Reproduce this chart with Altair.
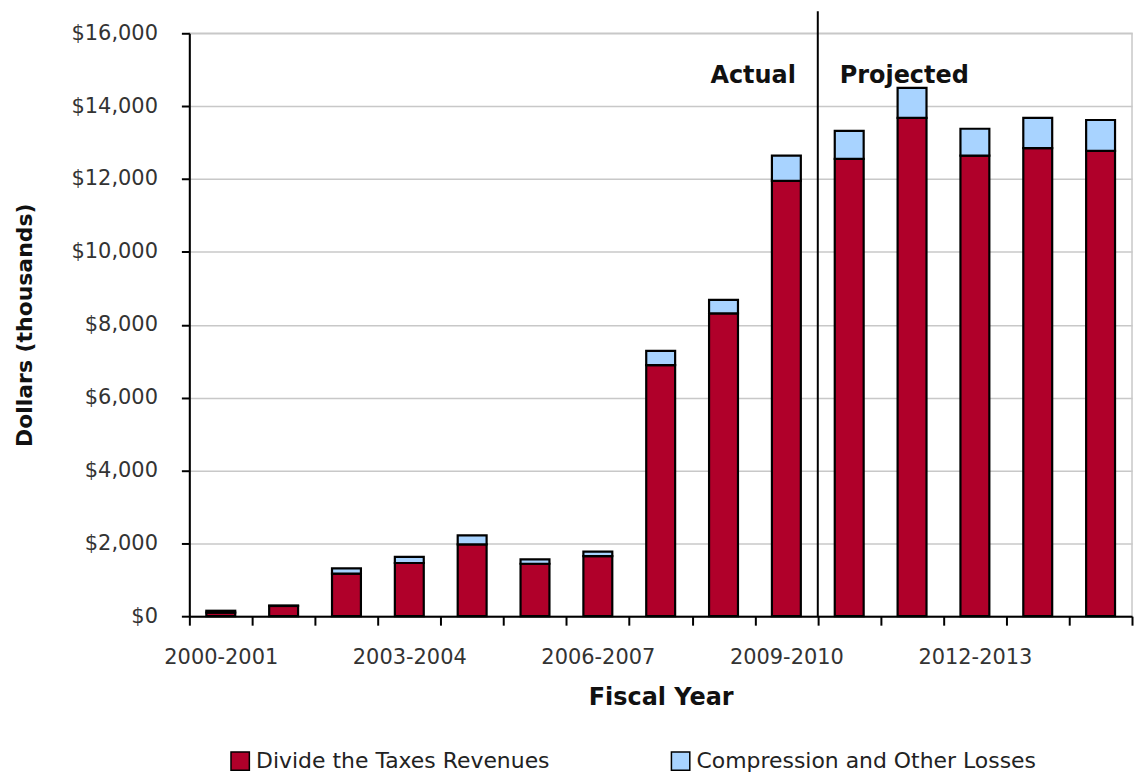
import altair as alt
import pandas as pd

# ---- data ----
years = ["2000-2001", "2001-2002", "2002-2003", "2003-2004", "2004-2005",
         "2005-2006", "2006-2007", "2007-2008", "2008-2009", "2009-2010",
         "2010-2011", "2011-2012", "2012-2013", "2013-2014", "2014-2015"]
divide = [100, 280, 1170, 1460, 1970, 1440, 1650, 6890, 8310, 11950,
          12550, 13680, 12640, 12850, 12770]
compression = [50, 15, 140, 170, 250, 120, 120, 390, 370, 690,
               770, 820, 740, 830, 850]
series_names = ["Divide the Taxes Revenues", "Compression and Other Losses"]
series_colors = ["#B0002A", "#A8D3FF"]
shown_labels = ["2000-2001", "2003-2004", "2006-2007", "2009-2010", "2012-2013"]
y_ticks = [0, 2000, 4000, 6000, 8000, 10000, 12000, 14000, 16000]
divider_year = "2010-2011"
annot_labels = ["Actual", "Projected"]
annot_y = 14630

rows = []
for i, yr in enumerate(years):
    rows.append({"year": yr, "series": series_names[0], "value": divide[i], "ord": 0})
    rows.append({"year": yr, "series": series_names[1], "value": compression[i], "ord": 1})
df = pd.DataFrame(rows)

W, H = 946, 585
FONT = "DejaVu Sans"
xscale = alt.Scale(domain=years, paddingInner=0, paddingOuter=0)
yscale = alt.Scale(domain=[0, 16000], nice=False)
YTITLE = "Dollars (thousands)"
XTITLE = "Fiscal Year"

label_list = "[" + ",".join("'%s'" % s for s in shown_labels) + "]"

bars = alt.Chart(df).mark_bar(
    width={"band": 0.46}, stroke="black", strokeWidth=2.2
).encode(
    x=alt.X("year:N", scale=xscale, title=XTITLE, axis=alt.Axis(
        labelAngle=0, labelFont=FONT, labelFontSize=21, labelColor="#333333",
        labelPadding=21, labelOverlap=False,
        labelExpr="indexof(%s, datum.value) >= 0 ? datum.value : ''" % label_list,
        tickBand="extent", tickColor="black", tickWidth=2, tickSize=9,
        domainColor="black", domainWidth=2, grid=False,
        titleFont=FONT, titleFontSize=24, titleFontWeight="bold", titleColor="#111111",
        titleY=82, titleBaseline="middle")),
    y=alt.Y("value:Q", stack="zero", scale=yscale, title=YTITLE, axis=alt.Axis(
        values=y_ticks, format="$,d", labelFont=FONT, labelFontSize=21,
        labelColor="#333333", labelPadding=24, tickColor="black", tickWidth=2,
        tickSize=8, domainColor="black", domainWidth=2,
        gridColor="#C8C8C8", gridWidth=1.5,
        titleFont=FONT, titleFontSize=22, titleFontWeight="bold", titleColor="#111111",
        titleX=-165, titleY=H / 2, titleBaseline="middle")),
    color=alt.Color("series:N", scale=alt.Scale(domain=series_names, range=series_colors),
                    legend=alt.Legend(
                        orient="none", legendX=40, legendY=719, direction="horizontal",
                        title=None, symbolType="square", symbolSize=340,
                        symbolStrokeColor="black", symbolStrokeWidth=1.5,
                        labelFont=FONT, labelFontSize=22, labelColor="#222222",
                        labelOffset=5, columnPadding=118, labelLimit=600)),
    order=alt.Order("ord:Q", sort="ascending"),
)

div_df = pd.DataFrame({"year": [divider_year]})
rule = alt.Chart(div_df).mark_rule(color="black", strokeWidth=2).encode(
    x=alt.X("year:N", scale=xscale, bandPosition=0, title=XTITLE),
    y=alt.value(-22), y2=alt.value(H),
)

ann_df = pd.DataFrame({"year": [divider_year, divider_year],
                       "label": annot_labels, "y": [annot_y, annot_y]})
txt_style = dict(font=FONT, fontSize=24, fontWeight="bold", color="#111111",
                 baseline="alphabetic")
actual = alt.Chart(ann_df).transform_filter(alt.datum.label == annot_labels[0]).mark_text(
    align="right", dx=-22, **txt_style).encode(
    x=alt.X("year:N", scale=xscale, bandPosition=0, title=XTITLE),
    y=alt.Y("y:Q", scale=yscale, title=YTITLE),
    text="label:N")
projected = alt.Chart(ann_df).transform_filter(alt.datum.label == annot_labels[1]).mark_text(
    align="left", dx=22, **txt_style).encode(
    x=alt.X("year:N", scale=xscale, bandPosition=0, title=XTITLE),
    y=alt.Y("y:Q", scale=yscale, title=YTITLE),
    text="label:N")

chart = alt.layer(bars, rule, actual, projected).properties(
    width=W, height=H,
    padding={"left": 182, "top": 24, "right": 2, "bottom": 156},
    autosize=alt.AutoSizeParams(type="none"),
    background="white",
).configure_view(stroke="#C8C8C8", strokeWidth=1.5)

chart.save("out.html", embed_options={"renderer": "svg", "actions": False})
